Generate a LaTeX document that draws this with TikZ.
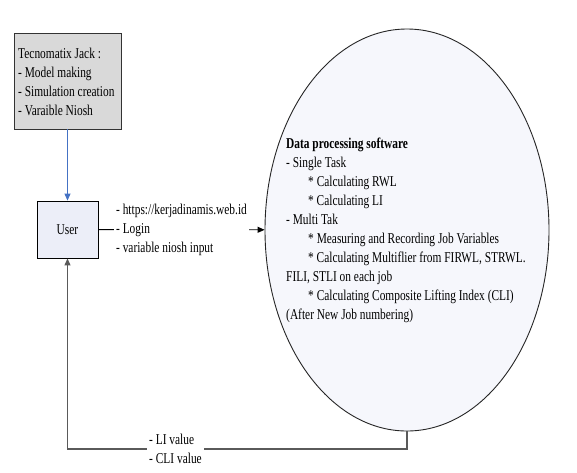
\documentclass[tikz,border=0pt]{standalone}
\usepackage{fontspec}
\setmainfont{Liberation Serif}[FakeStretch=0.76]
\usetikzlibrary{shapes.geometric,arrows.meta}
\definecolor{boxgray}{RGB}{217,217,217}
\definecolor{lav}{RGB}{236,238,248}
\definecolor{lavlight}{RGB}{246,247,252}
\definecolor{arrblue}{RGB}{68,114,196}
\definecolor{linegray}{RGB}{90,90,90}
\tikzset{
  txt/.style={font=\fontsize{15}{19}\selectfont, align=left},
  tip/.style={-{Triangle[length=7pt,width=6pt]}},
  jackbox/.style={draw=black!80, fill=boxgray, line width=0.9pt, minimum width=107pt, minimum height=96pt, inner sep=0pt},
  userbox/.style={draw=black, line width=0.9pt, minimum width=61pt, minimum height=57pt, inner sep=0pt, fill=lav},
  dpell/.style={ellipse, draw=black!85, line width=0.9pt, minimum width=284pt, minimum height=402pt, inner sep=0pt, fill=lavlight},
  lbl/.style={txt, fill=white, inner sep=2pt}
}
\begin{document}
\begin{tikzpicture}[x=1pt,y=-1pt]
\useasboundingbox (0,0) rectangle (577,472);
\fill[white] (0,0) rectangle (577,472);
% nodes
\node[jackbox] (jack) at (67.5,81) {};
\node[txt, anchor=west, inner sep=0pt] (jacktxt) at (18,81.5) {Tecnomatix Jack :\\- Model making\\- Simulation creation\\- Varaible Niosh};
\node[userbox] (user) at (67.5,229.5) {};
\node[txt, inner sep=0pt] (usertxt) at (67.5,230) {User};
\node[dpell] (dp) at (407,230) {};
\node[txt, anchor=west, inner sep=0pt] (dptxt) at (286,230) {\textbf{Data processing software}\\
- Single Task\\
\hspace*{22pt}* Calculating RWL\\
\hspace*{22pt}* Calculating LI\\
- Multi Tak\\
\hspace*{22pt}* Measuring and Recording Job Variables\\
\hspace*{22pt}* Calculating Multiflier from FIRWL, STRWL.\\
FILI, STLI on each job\\
\hspace*{22pt}* Calculating Composite Lifting Index (CLI)\\
(After New Job numbering)};
% connectors
\draw[tip, arrblue, line width=0.9pt] (jack) -- (user);
\draw[tip, black, line width=0.9pt] (user) -- node[lbl] (inlbl) {- https://kerjadinamis.web.id\\- Login\\- variable niosh input} (dp);
\coordinate (corner) at (407,449);
\draw[tip, linegray, line width=1.2pt] (dp.south) -- (corner) -| (user.south);
\node[lbl] (outlbl) at (175.5,449) {- LI value\\- CLI value};
\end{tikzpicture}
\end{document}
